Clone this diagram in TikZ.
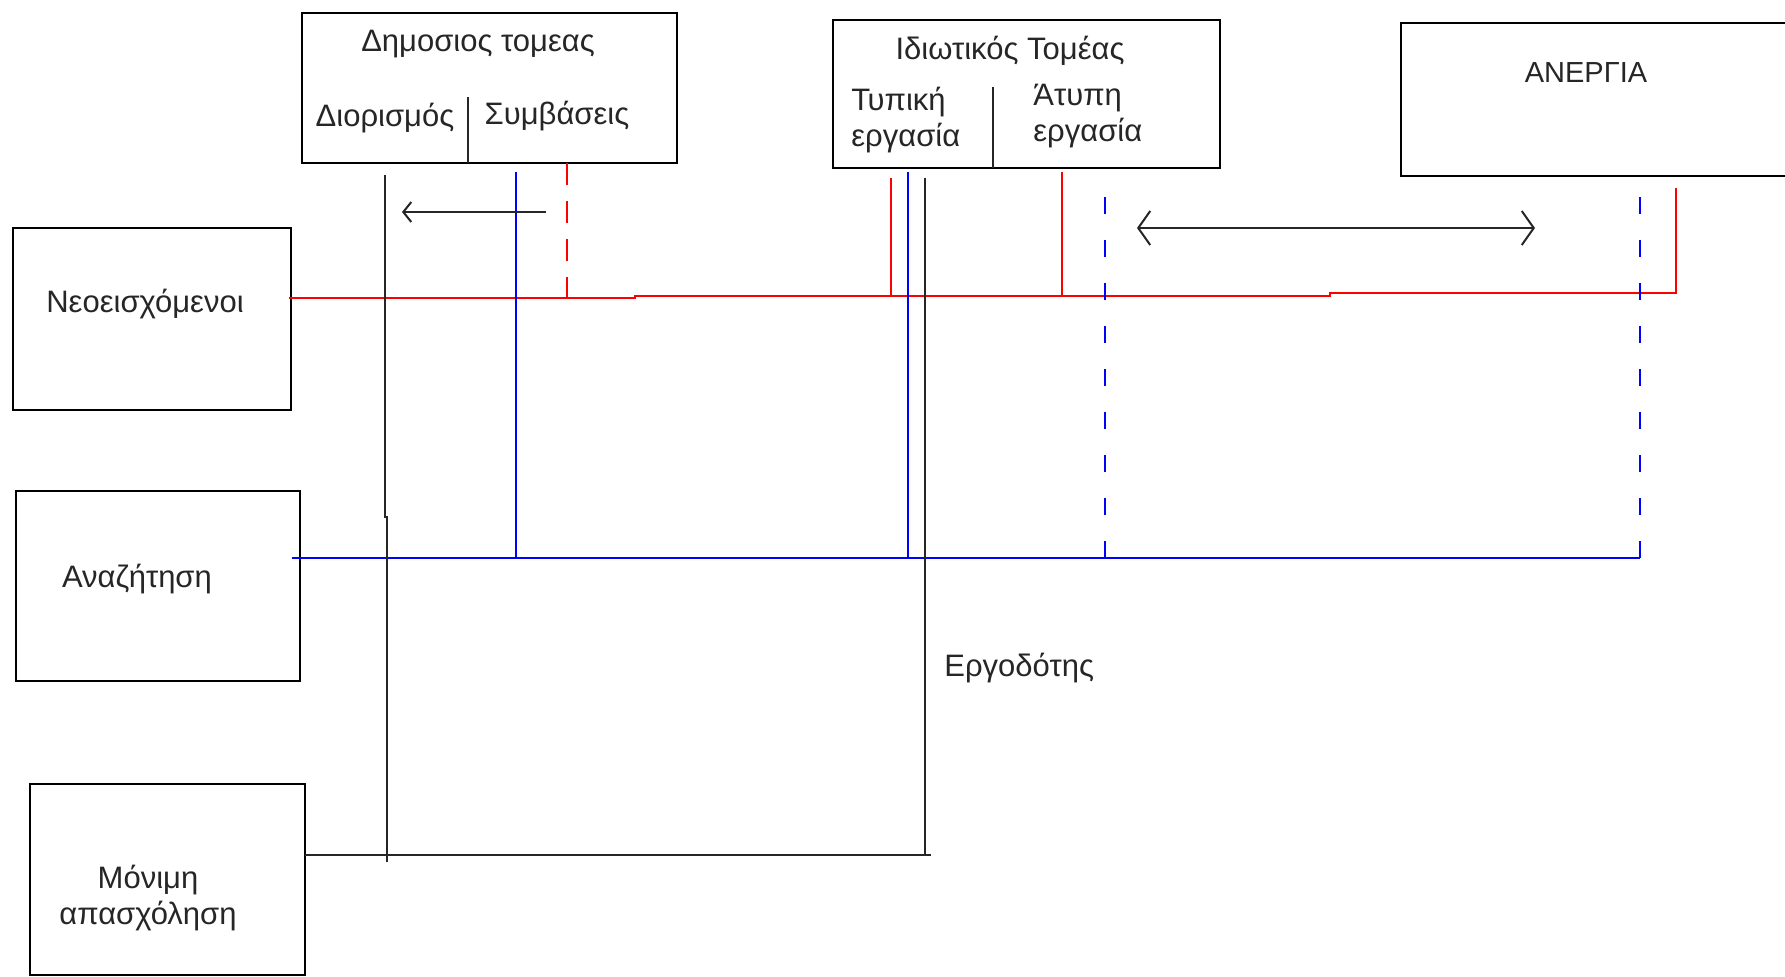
\documentclass[tikz,border=0pt]{standalone}
\usepackage{fontspec}
\setmainfont{Liberation Sans}
\usetikzlibrary{arrows.meta}
\tikzset{
  box/.style={draw=black, line width=1pt, rectangle, inner sep=0pt, outer sep=0pt},
  txt/.style={inner sep=0pt, font=\fontsize{15.5pt}{18pt}\selectfont, text=black!85},
  captxt/.style={txt, font=\fontsize{14.5pt}{17pt}\selectfont},
  redline/.style={draw=red, line width=1pt},
  blueline/.style={draw=blue, line width=1pt},
  blackline/.style={draw=black!85, line width=1pt},
  reddash/.style={redline, dash pattern=on 11pt off 8pt},
  bluedash/.style={blueline, dash pattern=on 8.5pt off 13pt},
  barb/.tip={Straight Barb[length=4pt,width=10pt,line width=1pt]},
  bigbarb/.tip={Straight Barb[length=6pt,width=17pt,line width=1pt]}
}
\begin{document}
\begin{tikzpicture}[x=0.5pt,y=-0.5pt]
\useasboundingbox (0,0) rectangle (1785,976);
\fill[white] (0,0) rectangle (1785,976);

% boxes
\node[box, minimum width=187.5pt, minimum height=75pt] (pub) at (489.5,88) {};
\node[box, minimum width=193.5pt, minimum height=74pt] (priv) at (1026.5,94) {};
\node[box, minimum width=199.5pt, minimum height=76.5pt] (unemp) at (1600.5,99.5) {};
\node[box, minimum width=139pt, minimum height=91pt] (neo) at (152,319) {};
\node[box, minimum width=142pt, minimum height=95pt] (search) at (158,586) {};
\node[box, minimum width=137.5pt, minimum height=95.5pt] (perm) at (167.5,879.5) {};

% dividers
\coordinate (pubdivT) at (468,97);
\coordinate (pubdivB) at (468,163);
\draw[blackline] (pubdivT) -- (pubdivB);
\coordinate (privdivT) at (993,87);
\coordinate (privdivB) at (993,168);
\draw[blackline] (privdivT) -- (privdivB);

% texts
\node[txt] (pubT) at (478,44) {Δημοσιος τομεας};
\node[txt] (dior) at (385,118) {Διορισμός};
\node[txt] (symb) at (557,116) {Συμβάσεις};
\node[txt] (privT) at (1010,51) {Ιδιωτικός Τομέας};
\node[txt, anchor=west, align=left] (typ) at (851,120) {Τυπική\\[0pt]εργασία};
\node[txt, anchor=west, align=left] (atyp) at (1033,116) {Άτυπη\\[0pt]εργασία};
\node[captxt] (unempT) at (1586,73) {ΑΝΕΡΓΙΑ};
\node[txt] (neoT) at (145,304) {Νεοεισχόμενοι};
\node[txt] (searchT) at (137,579) {Αναζήτηση};
\node[txt, align=center] (permT) at (148,898) {Μόνιμη\\[0pt]απασχόληση};
\node[txt, anchor=west] (emp) at (944,668) {Εργοδότης};

% red network
\coordinate (r0) at (289,298);
\coordinate (r1) at (635,298);
\coordinate (r2) at (635,296);
\coordinate (r3) at (1330,296);
\coordinate (r4) at (1330,293);
\coordinate (r5) at (1676,293);
\coordinate (r6) at (1676,188);
\draw[redline] (r0) -- (r1) -- (r2) -- (r3) -- (r4) -- (r5) -- (r6);
\coordinate (rt1) at (891,178);
\coordinate (rb1) at (891,296);
\draw[redline] (rt1) -- (rb1);
\coordinate (rt2) at (1062,172);
\coordinate (rb2) at (1062,296);
\draw[redline] (rt2) -- (rb2);
\coordinate (rdT) at (567,163);
\coordinate (rdB) at (567,298);
\draw[reddash] (rdT) -- (rdB);

% blue network
\coordinate (b0) at (292,558);
\coordinate (b1) at (1640,558);
\coordinate (b2) at (1640,183);
\draw[blueline] (b0) -- (b1);
\draw[bluedash] (b1) -- (b2);
\coordinate (bt1) at (516,172);
\coordinate (bb1) at (516,558);
\draw[blueline] (bt1) -- (bb1);
\coordinate (bt2) at (908,172);
\coordinate (bb2) at (908,558);
\draw[blueline] (bt2) -- (bb2);
\coordinate (bt3) at (1105,178);
\coordinate (bb3) at (1105,558);
\draw[bluedash] (bb3) -- (bt3);

% black network
\coordinate (k0) at (385,175);
\coordinate (k1) at (385,517);
\coordinate (k2) at (387,517);
\coordinate (k3) at (387,862);
\draw[blackline] (k0) -- (k1) -- (k2) -- (k3);
\coordinate (k4) at (925,178);
\coordinate (k5) at (925,855);
\draw[blackline] (k4) -- (k5);
\coordinate (k6) at (305,855);
\coordinate (k7) at (931,855);
\draw[blackline] (k6) -- (k7);

% arrows
\coordinate (a0) at (546,212);
\coordinate (a1) at (402,212);
\draw[blackline, -barb] (a0) -- (a1);
\coordinate (d0) at (1137,228);
\coordinate (d1) at (1535,228);
\draw[blackline, bigbarb-bigbarb] (d0) -- (d1);
\end{tikzpicture}
\end{document}
